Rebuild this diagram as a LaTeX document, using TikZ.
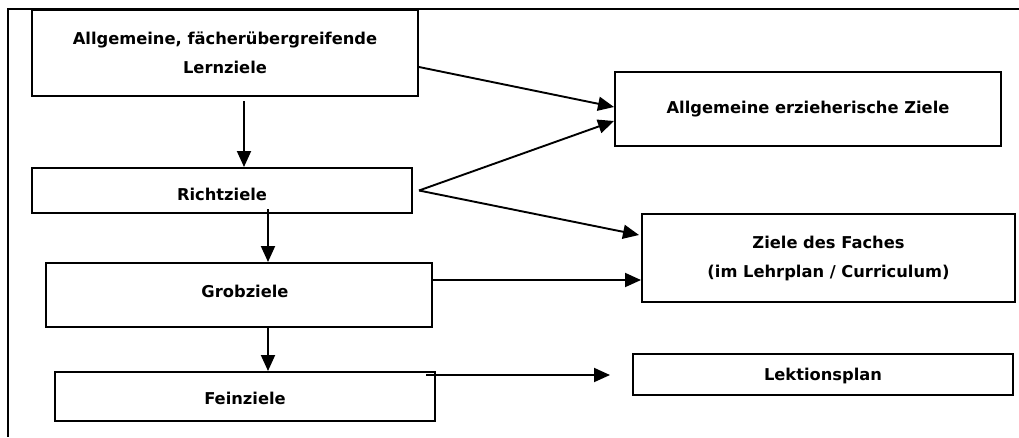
\documentclass[tikz,border=0pt]{standalone}
\usepackage{fontspec}
\setmainfont{DejaVu Sans}
\usetikzlibrary{arrows.meta,calc}
\begin{document}
\begin{tikzpicture}[x=1pt,y=-1pt,
  lbl/.style={font=\bfseries\fontsize{16.3}{29}\selectfont,align=center},
  box/.style={draw,line width=2pt,inner sep=0pt,lbl},
  conn/.style={line width=1.9pt,-{Triangle[length=16pt,width=14pt]}}]
\useasboundingbox (0,0) rectangle (1019,437);
\draw[line width=2pt] (1019,9) -- (8,9) -- (8,437);
\node[box,minimum width=386pt,minimum height=86pt] (A) at (225,53) {Allgemeine, fächerübergreifende\\Lernziele};
\node[box,minimum width=380pt,minimum height=45pt] (R) at (222,190.5) {};
\node[lbl] (Rt) at (222,194) {Richtziele};
\node[box,minimum width=386pt,minimum height=64pt] (G) at (239,295) {};
\node[lbl] (Gt) at (245,291) {Grobziele};
\node[box,minimum width=380pt,minimum height=49pt] (F) at (245,396.5) {};
\node[lbl] (Ft) at (245,398) {Feinziele};
\node[box,minimum width=386pt,minimum height=74pt] (E) at (808,109) {Allgemeine erzieherische Ziele};
\node[box,minimum width=373pt,minimum height=88pt] (Z) at (828.5,258) {Ziele des Faches\\(im Lehrplan / Curriculum)};
\node[box,minimum width=380pt,minimum height=41pt] (L) at (823,374.5) {};
\node[lbl] (Lt) at (823,376) {Lektionsplan};
% connectors
\coordinate (a1) at ($(A.south)+(19,4)$);
\draw[conn] (a1) -- (a1 |- R.north);
\coordinate (r1) at ($(R.south)+(46,-5)$);
\draw[conn] (r1) -- (r1 |- G.north);
\coordinate (g1) at ($(G.south)+(29,0)$);
\draw[conn] (g1) -- (g1 |- F.north);
\coordinate (aE) at ($(A.east)+(0,14)$);
\draw[conn] (aE) -- ($(E.west)+(0,-2)$);
\coordinate (rE) at ($(R.east)+(6,0)$);
\draw[conn] (rE) -- ($(E.south west)+(0,-26)$);
\draw[conn] (rE) -- ($(Z.north west)+(-2,22)$);
\coordinate (gE) at ($(G.east)+(0,-15)$);
\draw[conn] (gE) -- (gE -| Z.west);
\coordinate (fE) at ($(F.north east)+(-10,4)$);
\draw[conn] (fE) -- ($(fE -| L.west)+(-22,0)$);
\end{tikzpicture}
\end{document}
